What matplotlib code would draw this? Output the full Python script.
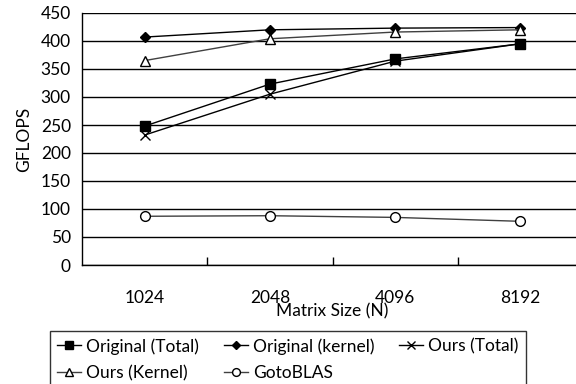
import matplotlib
matplotlib.use("Agg")
import matplotlib.pyplot as plt

plt.rcParams['font.family'] = ['Lato', 'DejaVu Sans']

# data
sizes = ["1024", "2048", "4096", "8192"]
orig_total = [248, 323, 368, 395]
orig_kernel = [407, 420, 423, 424]
ours_total = [232, 305, 364, 395]
ours_kernel = [365, 404, 416, 420]
goto_blas = [87, 88, 85, 78]

fs = 12.5

fig = plt.figure(figsize=(5.76, 3.84), dpi=100)
# right edge of the plot is cut off by the image border in the reference
ax = fig.add_axes([82/576, 1-265/384, 501/576, 252/384])

x = range(len(sizes))
l1, = ax.plot(x, orig_total, color='black', lw=1, marker='s', ms=7, mfc='black', mec='black', label='Original (Total)')
l2, = ax.plot(x, orig_kernel, color='black', lw=1, marker='D', ms=5, mfc='black', mec='black', label='Original (kernel)')
l3, = ax.plot(x, ours_total, color='black', lw=1, marker='x', ms=7, mew=1, label='Ours (Total)')
l4, = ax.plot(x, ours_kernel, color='#404040', lw=1, marker='^', ms=7, mfc='white', mec='black', label='Ours (Kernel)')
l5, = ax.plot(x, goto_blas, color='#404040', lw=1, marker='o', ms=7, mfc='white', mec='black', label='GotoBLAS')

ax.set_xlim(-0.5, 3.5)
ax.set_ylim(0, 450)
ax.set_yticks(range(0, 451, 50))
ax.yaxis.grid(True, color='black', lw=1)
ax.set_axisbelow(True)

ax.set_xticks(list(x))
ax.set_xticklabels(sizes)
ax.set_xticks([0.5, 1.5, 2.5], minor=True)
ax.tick_params(axis='x', which='major', length=0, pad=18, labelsize=fs)
ax.tick_params(axis='x', which='minor', length=6, direction='in', width=1)
ax.tick_params(axis='y', length=0, pad=8, labelsize=fs)

for s in ['top', 'right']:
    ax.spines[s].set_visible(False)
ax.spines['left'].set_linewidth(1)
ax.spines['bottom'].set_linewidth(1)

ax.set_xlabel('Matrix Size (N)', fontsize=fs, labelpad=-2)
ax.set_ylabel('GFLOPS', fontsize=fs, labelpad=6)

# legend fills column-wise, so order handles to get the reference's rows
handles = [l1, l4, l2, l5, l3]
leg = fig.legend(handles=handles, labels=[h.get_label() for h in handles],
                 loc='upper left', bbox_to_anchor=(50/576, 1-331/384), ncol=3,
                 fontsize=fs, frameon=True, fancybox=False, edgecolor='black',
                 handlelength=1.4, handletextpad=0.3, columnspacing=1.4,
                 borderpad=0.4, borderaxespad=0, labelspacing=0.6, markerscale=0.8)
leg.get_frame().set_linewidth(1)

fig.savefig('out.png', dpi=100)
